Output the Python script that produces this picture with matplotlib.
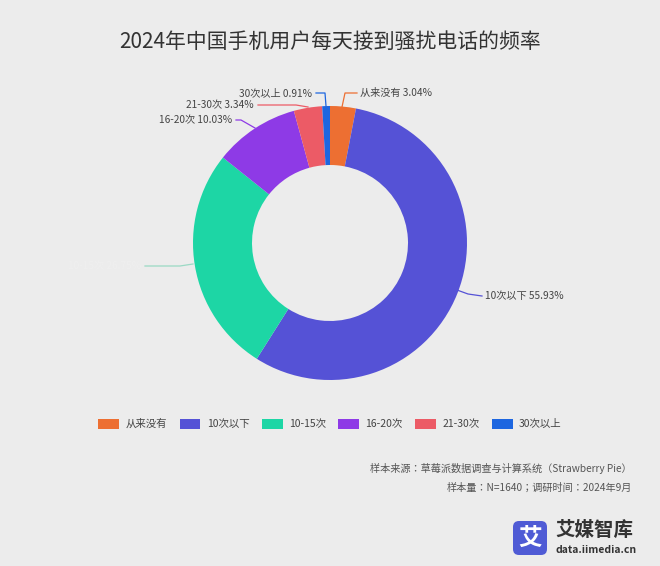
import matplotlib
matplotlib.use("Agg")
import matplotlib.pyplot as plt
from matplotlib import font_manager as fm
from matplotlib.patches import Patch, FancyBboxPatch

for f in fm.findSystemFonts():
    if "CJK" in f or "cjk" in f.lower():
        try:
            fm.fontManager.addfont(f)
        except Exception:
            pass
names = sorted({f.name for f in fm.fontManager.ttflist if "CJK" in f.name})
cjk = "Noto Sans CJK SC" if "Noto Sans CJK SC" in names else (names[0] if names else "DejaVu Sans")
plt.rcParams["font.family"] = [cjk, "DejaVu Sans"]

categories = ["从来没有", "10次以下", "10-15次", "16-20次", "21-30次", "30次以上"]
values = [3.04, 55.93, 26.75, 10.03, 3.34, 0.91]
colors = ["#ed6f32", "#5552d6", "#1dd6a5", "#8e3ae6", "#ec5b66", "#1d66e0"]
title = "2024年中国手机用户每天接到骚扰电话的频率"
source1 = "样本来源：草莓派数据调查与计算系统（Strawberry Pie）"
source2 = "样本量：N=1640；调研时间：2024年9月"

W, H = 660, 566
bg = "#ececec"
fig = plt.figure(figsize=(W/100, H/100), dpi=100, facecolor=bg)

cx, cy, R = 330, 243, 137
half = 150
ax = fig.add_axes([(cx-half)/W, (H-cy-half)/H, 2*half/W, 2*half/H])
ax.set_facecolor("none")
ax.pie(values, colors=colors, startangle=90, counterclock=False, radius=1,
       wedgeprops=dict(width=(137-78)/137, edgecolor="none"))
lim = half / R
ax.set_xlim(-lim, lim); ax.set_ylim(-lim, lim); ax.set_aspect("auto"); ax.axis("off")

def P(px, py):
    return ((px-cx)/R, (cy-py)/R)

leaders = [
    (0, [(342,107),(345,93),(357,93)], (360,93), "left", "#444444"),
    (1, [(457,290),(468,294),(482,296)], (485,296), "left", "#444444"),
    (5, [(326,106),(325,93),(316,93)], (312,93), "right", "#444444"),
    (4, [(308,107),(296,105),(258,105)], (254,105), "right", "#444444"),
    (3, [(255,128),(241,120),(236,120)], (232,120), "right", "#444444"),
    (2, [(193,264),(180,266),(145,266)], (141,266), "right", "#efefef"),
]
for i, pts, tp, ha, tc in leaders:
    xs, ys = zip(*[P(*p) for p in pts])
    lc = colors[i] if i != 2 else "#9ad9c4"
    ax.plot(xs, ys, color=lc, lw=0.9, clip_on=False)
    ax.text(*P(*tp), f"{categories[i]} {values[i]:.2f}%", ha=ha, va="center",
            fontsize=7.3, color=tc, clip_on=False)

fig.text(0.5, 1-42/H, title, ha="center", va="center", fontsize=15, color="#333333")

handles = [Patch(facecolor=c, edgecolor="none") for c in colors]
fig.legend(handles, categories, loc="center", bbox_to_anchor=(0.5, 1-424/H), ncol=6,
           frameon=False, fontsize=7.5, handlelength=2.0, handleheight=1.1,
           columnspacing=1.2, handletextpad=0.6, labelcolor="#444444")

fig.text(632/W, 1-468/H, source1, ha="right", va="center", fontsize=7.3, color="#555555")
fig.text(632/W, 1-488/H, source2, ha="right", va="center", fontsize=7.3, color="#555555")

lax = fig.add_axes([0, 0, 1, 1]); lax.set_xlim(0, W); lax.set_ylim(H, 0); lax.axis("off")
lax.add_patch(FancyBboxPatch((513, 521), 34, 34, boxstyle="round,pad=0,rounding_size=6",
                             facecolor="#4f5bd5", edgecolor="none"))
lax.text(530, 538, "艾", ha="center", va="center", fontsize=17, color="white", fontweight="bold")
lax.text(555, 530, "艾媒智库", ha="left", va="center", fontsize=14, color="#333333", fontweight="bold")
lax.text(555, 550, "data.iimedia.cn", ha="left", va="center", fontsize=7.5, color="#333333", fontweight="bold")

fig.savefig("out.png", dpi=100, facecolor=bg)
